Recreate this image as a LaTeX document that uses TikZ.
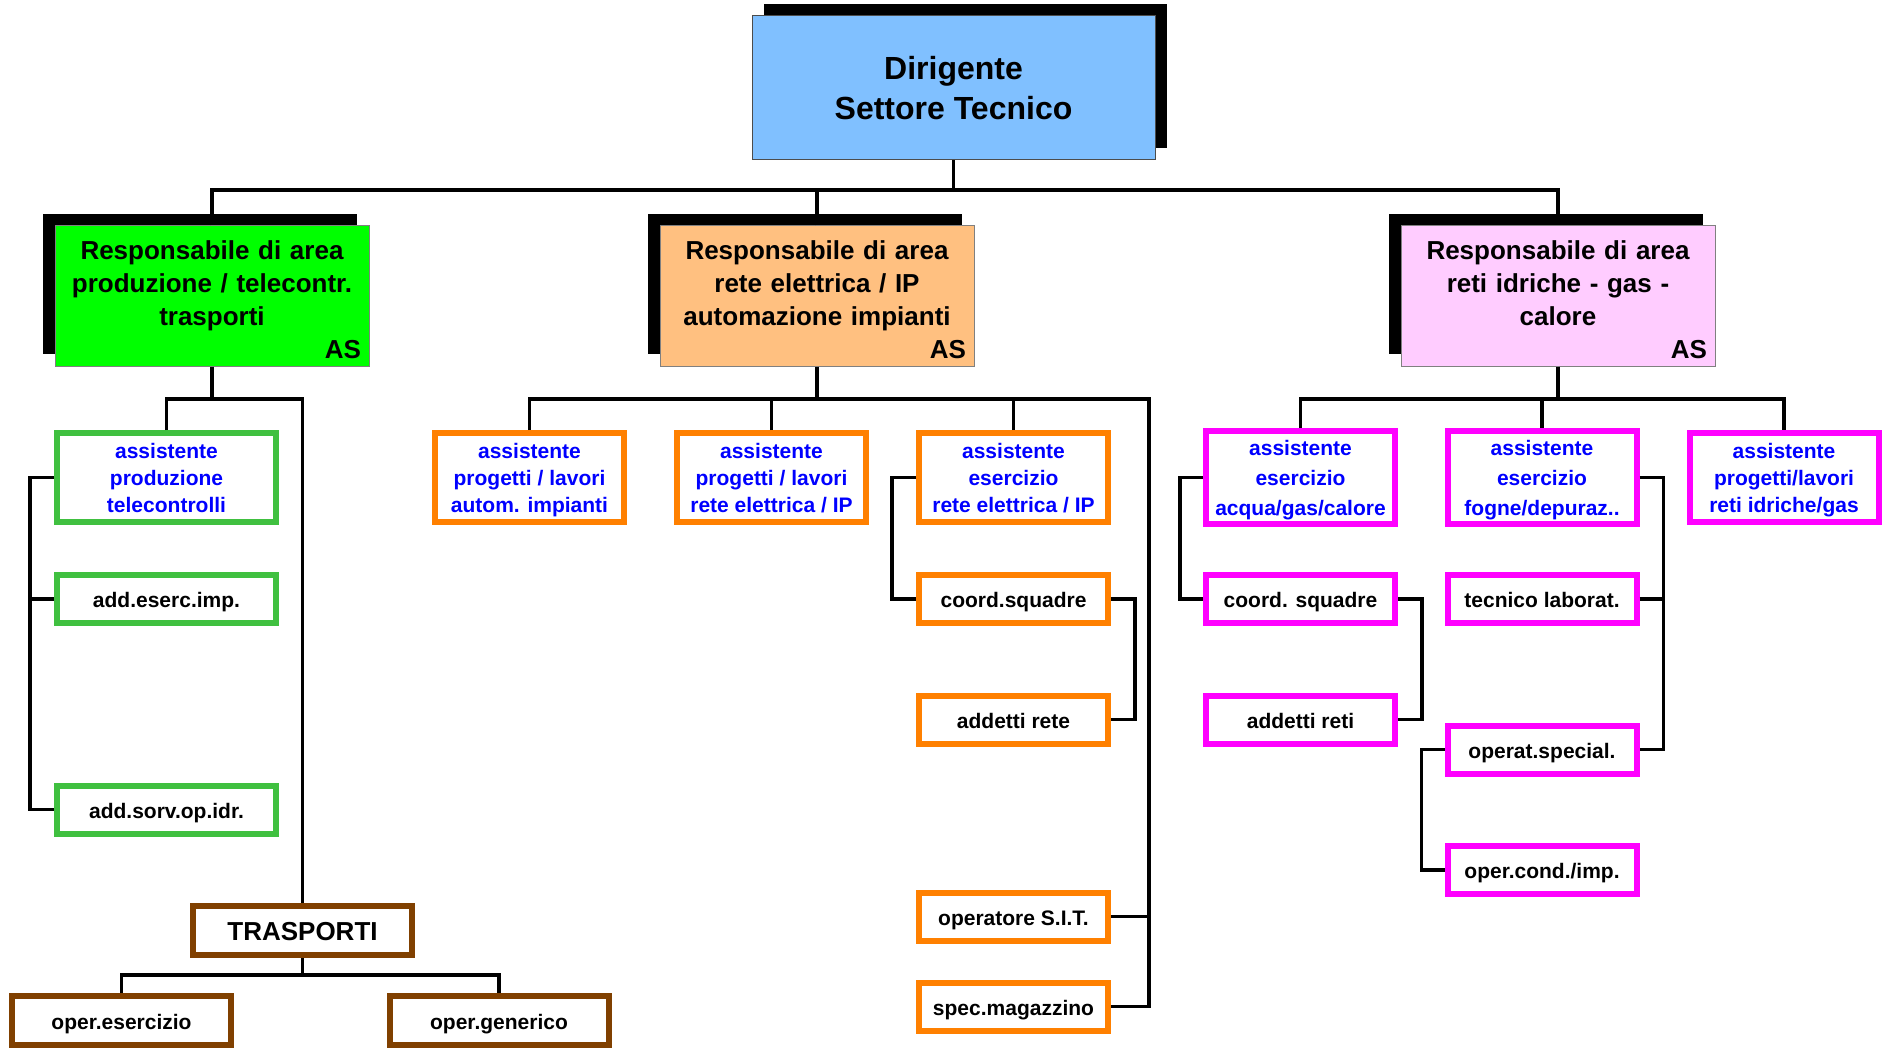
\documentclass[tikz,border=0pt]{standalone}
\usepackage{fontspec}
\setmainfont{Liberation Sans}
\usepackage{xcolor}
\usepackage{tikz}
\usetikzlibrary{
	positioning,
	shadows
}
\definecolor{capo}{HTML}{80C0FF}
\definecolor{prodfill}{HTML}{00FF00}
\definecolor{retefill}{HTML}{FFC080}
\definecolor{idrfill}{HTML}{FFCCFF}
\definecolor{verde}{HTML}{40C040}
\definecolor{arancio}{HTML}{FF8000}
\definecolor{magenta}{HTML}{FF00FF}
\definecolor{marrone}{HTML}{804000}
\tikzset{
	conn/.style={
		line width=3.5pt
	},
	boss/.style={
		draw=black!70, line width=1pt, fill=capo,
		minimum width=403pt, minimum height=144pt, align=center,
		font=\bfseries\fontsize{32}{40}\selectfont,
		general shadow={fill=black, shadow xshift=12pt, shadow yshift=12pt}
	},
	resp/.style={
		draw=black!50, line width=1pt,
		minimum width=314pt, minimum height=140pt,
		text width=298pt, inner xsep=8pt, align=center,
		font=\bfseries\fontsize{26}{33}\selectfont,
		general shadow={fill=black, shadow xshift=-12pt, shadow yshift=12pt}
	},
	box/.style={
		draw, line width=6pt, fill=white, inner sep=2pt,
		minimum height=48pt, align=center,
		text height=17pt, text depth=0pt,
		font=\bfseries\fontsize{21}{27}\selectfont
	},
	ass/.style={
		text=blue, minimum height=89pt, text height=, text depth=0pt
	},
	wide/.style={
		minimum height=93pt, font=\bfseries\fontsize{21}{30}\selectfont
	},
	grn/.style={box, draw=verde, minimum width=219pt},
	org/.style={box, draw=arancio, minimum width=189pt},
	pnk/.style={box, draw=magenta, minimum width=189pt},
	brn/.style={box, draw=marrone, minimum width=219pt, minimum height=49pt}
}
\begin{document}
\begin{tikzpicture}[x=1pt, y=-1pt]
	\useasboundingbox (0,0) rectangle (1883,1051);
	\draw
		node [boss]               (dir)  at (953.5,88) {Dirigente\\Settore Tecnico}
		node [resp,fill=prodfill] (prod) at (212,296)  {\rule{0pt}{27pt}Responsabile di area\\produzione / telecontr.\\trasporti\\\hspace*{\fill}AS}
		node [resp,fill=retefill] (rete) at (817,296)  {\rule{0pt}{27pt}Responsabile di area\\rete elettrica / IP\\automazione impianti\\\hspace*{\fill}AS}
		node [resp,fill=idrfill]  (idr)  at (1558,296) {\rule{0pt}{27pt}Responsabile di area\\reti idriche - gas -\\calore\\\hspace*{\fill}AS}
	;
	\draw
		node [grn,ass] (telc)  at (166.5,477.5) {assistente\\produzione\\telecontrolli}
		node [grn]     (eserc) at (166.5,599)   {add.eserc.imp.}
		node [grn]     (sorv)  at (166.5,809.5) {add.sorv.op.idr.}
		node [brn,font=\bfseries\fontsize{26}{30}\selectfont,text height=19pt]
		               (trasp) at (302.5,930.5) {TRASPORTI}
		node [brn]     (opes)  at (121.5,1020.5) {oper.esercizio}
		node [brn]     (opgen) at (499,1020.5)   {oper.generico}
	;
	\draw
		node [org,ass] (autom) at (529.5,477.5)  {assistente\\progetti / lavori\\autom. impianti}
		node [org,ass] (prel)  at (771.5,477.5)  {assistente\\progetti / lavori\\rete elettrica / IP}
		node [org,ass] (esel)  at (1013.5,477.5) {assistente\\esercizio\\rete elettrica / IP}
		node [org]     (coel)  at (1013.5,599)   {coord.squadre}
		node [org]     (adre)  at (1013.5,719.5) {addetti rete}
		node [org]     (sit)   at (1013.5,916.5) {operatore S.I.T.}
		node [org]     (mag)   at (1013.5,1006.5) {spec.magazzino}
	;
	\draw
		node [pnk,ass,wide] (acqua) at (1300.5,477.5) {assistente\\esercizio\\acqua/gas/calore}
		node [pnk,ass,wide] (fogne) at (1542,477.5)   {assistente\\esercizio\\fogne/depuraz..}
		node [pnk,ass] (prid)  at (1784,477.5)   {assistente\\progetti/lavori\\reti idriche/gas}
		node [pnk]     (coid)  at (1300.5,599)   {coord. squadre}
		node [pnk]     (adid)  at (1300.5,719.5) {addetti reti}
		node [pnk]     (lab)   at (1542,599)     {tecnico laborat.}
		node [pnk]     (spec)  at (1542,749.5)   {operat.special.}
		node [pnk]     (cond)  at (1542,870)     {oper.cond./imp.}
	;
	\coordinate (bus)    at (953.5,190);
	\coordinate (gsplit) at (212,399);
	\coordinate (tsplit) at (302.5,975);
	\coordinate (osplit) at (817,399);
	\coordinate (oright) at (1149,399);
	\coordinate (psplit) at (1558,399);
	\draw [conn] (dir.south) -- (bus);
	\draw [conn] (prod.north) |- (bus) -| (idr.north);
	\draw [conn] (rete.north) -- (rete.north |- bus);
	\draw [conn] (prod.south) -- (gsplit);
	\draw [conn] (telc.north) |- (gsplit) -| (trasp.north);
	\draw [conn] (telc.west) -- ++(-24,0) |- (sorv.west);
	\draw [conn] (eserc.west) -- ++(-24,0);
	\draw [conn] (trasp.south) -- (tsplit);
	\draw [conn] (opes.north) |- (tsplit) -| (opgen.north);
	\draw [conn] (rete.south) -- (osplit);
	\draw [conn] (autom.north) |- (oright) |- (mag.east);
	\draw [conn] (prel.north) -- (prel.north |- oright);
	\draw [conn] (esel.north) -- (esel.north |- oright);
	\draw [conn] (sit.east) -- (sit.east -| oright);
	\draw [conn] (esel.west) -- ++(-24,0) |- (coel.west);
	\draw [conn] (coel.east) -- ++(24,0) |- (adre.east);
	\draw [conn] (idr.south) -- (psplit);
	\draw [conn] (acqua.north) |- (psplit) -| (prid.north);
	\draw [conn] (fogne.north) -- (fogne.north |- psplit);
	\draw [conn] (acqua.west) -- ++(-23,0) |- (coid.west);
	\draw [conn] (coid.east) -- ++(24,0) |- (adid.east);
	\draw [conn] (fogne.east) -- ++(24,0) |- (spec.east);
	\draw [conn] (lab.east) -- ++(24,0);
	\draw [conn] (spec.west) -- ++(-23,0) |- (cond.west);
\end{tikzpicture}
\end{document}
